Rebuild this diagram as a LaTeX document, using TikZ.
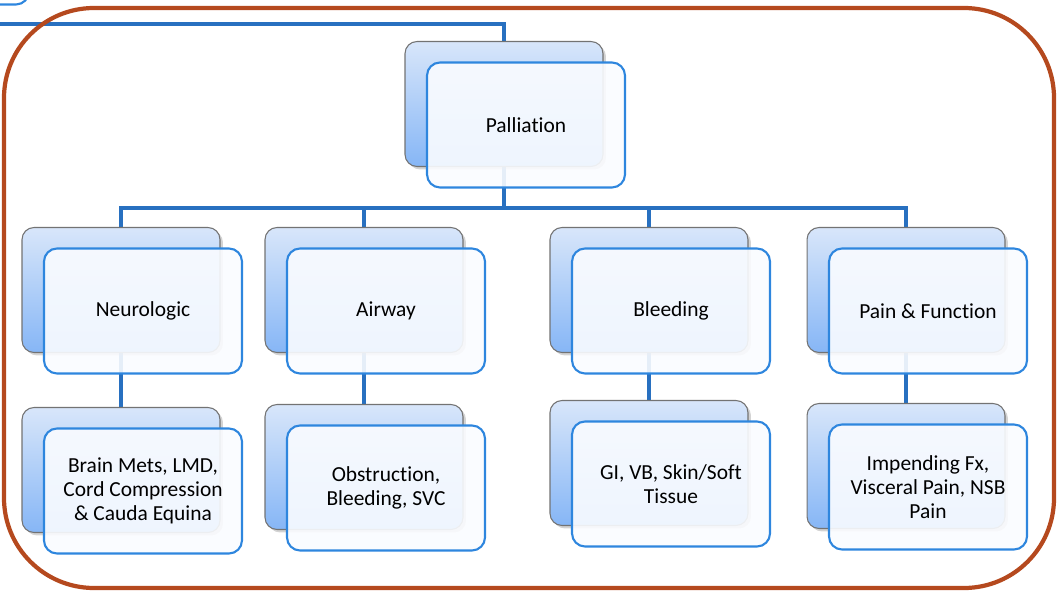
\documentclass[tikz,border=0pt]{standalone}
\usepackage{fontspec}
\setmainfont{Carlito}[Ligatures=NoCommon]
\usetikzlibrary{positioning, shadows}
\pgfdeclarelayer{background}
\pgfsetlayers{background,main}
\definecolor{linkblue}{RGB}{40,112,192}
\definecolor{frameblue}{RGB}{46,134,222}
\definecolor{framebrown}{RGB}{181,73,30}
\definecolor{backtop}{RGB}{216,230,250}
\definecolor{backbot}{RGB}{134,182,246}
\definecolor{frontfill}{RGB}{250,252,255}

\begin{document}
\begin{tikzpicture}[x=0.02cm, y=-0.02cm, on grid,
    back/.style={rectangle, rounded corners=0.24cm, draw=gray!90!black, line width=0.6pt,
        top color=backtop, bottom color=backbot, minimum width=3.96cm, minimum height=2.5cm,
        drop shadow={shadow xshift=0.06cm, shadow yshift=-0.06cm, opacity=0.35}},
    front/.style={rectangle, rounded corners=0.26cm, draw=frameblue, line width=1.2pt,
        fill=frontfill, fill opacity=0.9, text opacity=1, minimum width=3.96cm,
        minimum height=2.5cm, align=center, font=\fontsize{12.2}{13.6}\selectfont},
    link/.style={draw=linkblue, line width=2.8pt}]
    \useasboundingbox (0,0) rectangle (1058,591);
    \clip (0,0) rectangle (1058,591);

    % box cut off at the top left
    \node[front, fill=white]    (prevbox)    at (-70,-58)                       {};

    % top
    \node[back]                 (pallB)      at (504,104)                       {};
    \node[front]                (pallF)      [below right=0.42cm and 0.44cm of pallB] {Palliation};

    % second row
    \node[back]                 (neuroB)     at (121,290)                       {};
    \node[front]                (neuroF)     [below right=0.42cm and 0.44cm of neuroB] {Neurologic};
    \node[back]                 (airB)       at (364,290)                       {};
    \node[front]                (airF)       [below right=0.42cm and 0.44cm of airB] {Airway};
    \node[back]                 (bleedB)     at (649,290)                       {};
    \node[front]                (bleedF)     [below right=0.42cm and 0.44cm of bleedB] {Bleeding};
    \node[back]                 (painB)      at (906,290)                       {};
    \node[front]                (painF)      [below right=0.42cm and 0.44cm of painB] {Pain \& Function};

    % third row
    \node[back]                 (neuroSubB)  at (121,470)                       {};
    \node[front]                (neuroSubF)  [below right=0.42cm and 0.44cm of neuroSubB] {Brain Mets, LMD,\\Cord Compression\\\& Cauda Equina};
    \node[back]                 (airSubB)    at (364,467)                       {};
    \node[front]                (airSubF)    [below right=0.42cm and 0.44cm of airSubB] {Obstruction,\\Bleeding, SVC};
    \node[back]                 (bleedSubB)  at (649,463)                       {};
    \node[front]                (bleedSubF)  [below right=0.42cm and 0.44cm of bleedSubB] {GI, VB, Skin/Soft\\Tissue};
    \node[back]                 (painSubB)   at (906,466)                       {};
    \node[front]                (painSubF)   [below right=0.42cm and 0.44cm of painSubB] {Impending Fx,\\Visceral Pain, NSB\\Pain};

    \begin{pgfonlayer}{background}
        \coordinate (edge) at (0,24);
        \draw[link] (edge) -| (pallB.north);
        \foreach \n in {neuroB, airB, bleedB, painB}
            \draw[link] (pallB.south) -- ++(0,41) -| (\n.north);
        \foreach \a/\b in {neuroB/neuroSubB, airB/airSubB, bleedB/bleedSubB, painB/painSubB}
            \draw[link] (\a.south) -- (\b.north);
    \end{pgfonlayer}

    % frame
    \draw[framebrown, line width=2.4pt, rounded corners=1.8cm] (4,8) rectangle (1054,588);
\end{tikzpicture}
\end{document}
